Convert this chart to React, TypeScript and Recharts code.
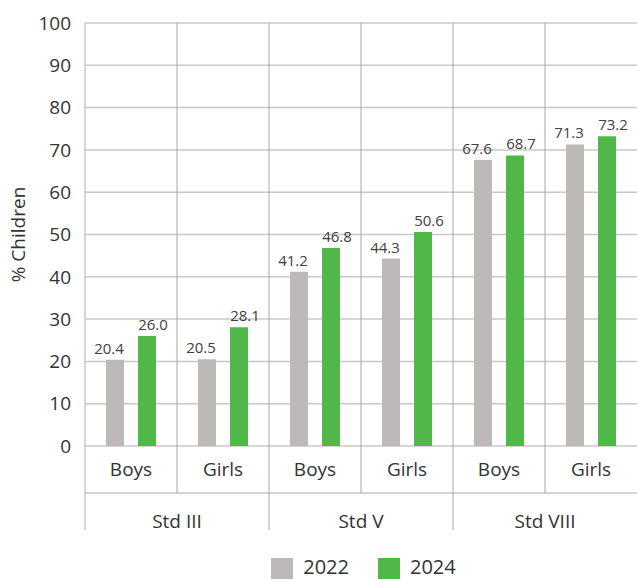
import {
  BarChart,
  Bar,
  XAxis,
  YAxis,
  CartesianGrid,
  ReferenceLine,
  LabelList,
  Legend,
  Label,
} from 'recharts'

const STANDARDS = ['Std III', 'Std V', 'Std VIII']
const GENDERS = ['Boys', 'Girls']
const YEARS = ['2022', '2024']
const VALUES_2022 = [20.4, 20.5, 41.2, 44.3, 67.6, 71.3]
const VALUES_2024 = [26.0, 28.1, 46.8, 50.6, 68.7, 73.2]
const Y_TICKS = [0, 10, 20, 30, 40, 50, 60, 70, 80, 90, 100]

const COLORS = ['#BCB9B8', '#50B848']
const TEXT = '#333333'
const GRID_LIGHT = '#C8C8C8'
const GRID_DARK = '#A8A8A8'
const FONT = '"Open Sans", "Noto Sans", sans-serif'

const data = VALUES_2022.map((v, i) => ({
  key: `${STANDARDS[Math.floor(i / GENDERS.length)]}|${GENDERS[i % GENDERS.length]}`,
  std: STANDARDS[Math.floor(i / GENDERS.length)],
  y2022: v,
  y2024: VALUES_2024[i],
}))

// tick de primer nivel (Boys / Girls) con separadores
function GenderTick(props: any) {
  const { x, y, payload, index } = props
  const half = payload.offset ?? 46
  const left = x - half
  const label = String(payload.value).split('|')[1]
  return (
    <g>
      <line x1={left} x2={left} y1={y} y2={y + 47} stroke={index === 0 ? GRID_LIGHT : GRID_DARK} strokeWidth={index === 0 ? 1.5 : 1} />
      <line x1={left} x2={x + half} y1={y + 47} y2={y + 47} stroke={GRID_DARK} strokeWidth={1} />
      <text x={x} y={y + 30} textAnchor="middle" fill={TEXT} fontSize={19} fontFamily={FONT}>
        {label}
      </text>
    </g>
  )
}

// tick de segundo nivel (Std)
function StdTick(props: any) {
  const { x, y, payload, index } = props
  const half = payload.offset ?? 92
  const left = x - half
  return (
    <g>
      <line x1={left} x2={left} y1={y} y2={y + 37} stroke={index === 0 ? GRID_LIGHT : GRID_DARK} strokeWidth={index === 0 ? 1.5 : 1} />
      <text x={x} y={y + 35} textAnchor="middle" fill={TEXT} fontSize={19} fontFamily={FONT}>
        {payload.value}
      </text>
    </g>
  )
}

function LegendContent() {
  return (
    <div
      style={{
        display: 'flex',
        justifyContent: 'center',
        paddingLeft: 90,
        height: 24,
        fontFamily: FONT,
        fontSize: 20,
        lineHeight: '24px',
        color: TEXT,
      }}
    >
      {YEARS.map((yr, i) => (
        <div key={yr} style={{ display: 'flex', alignItems: 'flex-start', marginRight: i === 0 ? 29 : 0 }}>
          <div style={{ width: 22, height: 21, marginTop: 3, background: COLORS[i], marginRight: 10 }} />
          <span>{yr}</span>
        </div>
      ))}
    </div>
  )
}

export default function App() {
  return (
    <div style={{ position: 'absolute', left: 0, top: 0 }}>
      <BarChart
        width={637}
        height={580}
        data={data}
        margin={{ top: 23, right: 0, bottom: 26, left: 0 }}
        barSize={18}
        barGap={14}
      >
        <CartesianGrid xAxisId="g" vertical={false} stroke={GRID_LIGHT} strokeWidth={1.5} />
        {data.slice(1).map(d => (
          <ReferenceLine key={d.key} xAxisId="g" x={d.key} position="start" stroke={GRID_DARK} strokeWidth={1} />
        ))}
        <XAxis
          xAxisId="g"
          dataKey="key"
          height={47}
          axisLine={false}
          tickLine={false}
          tickSize={0}
          tickMargin={0}
          interval={0}
          tick={<GenderTick />}
        />
        <XAxis
          xAxisId="std"
          dataKey="std"
          allowDuplicatedCategory={false}
          height={37}
          axisLine={false}
          tickLine={false}
          tickSize={0}
          tickMargin={0}
          interval={0}
          tick={<StdTick />}
        />
        <YAxis
          width={85}
          domain={[0, 100]}
          ticks={Y_TICKS}
          interval={0}
          axisLine={{ stroke: GRID_LIGHT, strokeWidth: 1.5 }}
          tickLine={false}
          tickMargin={8}
          tick={{ fontSize: 19, fill: TEXT, fontFamily: FONT }}
        >
          <Label
            value="% Children"
            angle={-90}
            position="center"
            dx={-24}
            style={{ fontSize: 19, fill: TEXT, fontFamily: FONT }}
          />
        </YAxis>
        <Legend verticalAlign="bottom" height={24} wrapperStyle={{ top: 555 }} content={<LegendContent />} />
        <Bar xAxisId="g" dataKey="y2022" name={YEARS[0]} fill={COLORS[0]} isAnimationActive={false}>
          <LabelList
            dataKey="y2022"
            position="top"
            offset={6}
            dx={-6}
            formatter={(v: any) => Number(v).toFixed(1)}
            style={{ fontSize: 15, fill: '#404040', fontFamily: FONT }}
          />
        </Bar>
        <Bar xAxisId="g" dataKey="y2024" name={YEARS[1]} fill={COLORS[1]} isAnimationActive={false}>
          <LabelList
            dataKey="y2024"
            position="top"
            offset={6}
            dx={6}
            formatter={(v: any) => Number(v).toFixed(1)}
            style={{ fontSize: 15, fill: '#404040', fontFamily: FONT }}
          />
        </Bar>
      </BarChart>
    </div>
  )
}
